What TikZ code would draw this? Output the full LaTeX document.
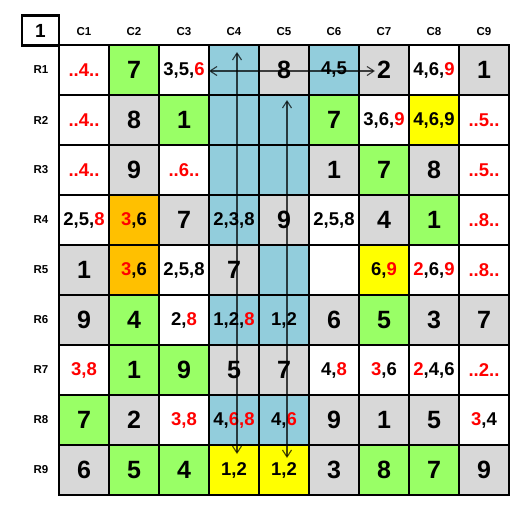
\documentclass[tikz,border=0pt]{standalone}
\usepackage{fontspec}
\setmainfont{Liberation Sans}
\usetikzlibrary{arrows.meta}
\definecolor{cG}{HTML}{99FF66}
\definecolor{cY}{HTML}{FFFF00}
\definecolor{cB}{HTML}{92CDDC}
\definecolor{cO}{HTML}{FFC000}
\definecolor{cS}{HTML}{D8D8D8}
\definecolor{cW}{HTML}{FFFFFF}
\definecolor{cR}{HTML}{FF0000}
\newcommand\rd[1]{\textcolor{cR}{#1}}
\tikzset{
  cellbox/.style={minimum size=50pt, inner sep=0pt, draw=none},
  bigtxt/.style={font=\bfseries\fontsize{25}{25}\selectfont},
  candtxt/.style={font=\bfseries\fontsize{18.5}{18.5}\selectfont},
  lbltxt/.style={font=\bfseries\fontsize{11.5}{12}\selectfont},
  thinline/.style={line width=1.2pt},
  thickline/.style={line width=2.6pt},
  arrbase/.style={line width=1.1pt, draw=black, draw opacity=0.72},
  arrtwo/.style={arrbase, arrows={Straight Barb[length=7pt,width=9pt]-Straight Barb[length=7pt,width=9pt]}},
  arrone/.style={arrbase, arrows={-Straight Barb[length=7pt,width=9pt]}}
}
\begin{document}
\begin{tikzpicture}[x=1pt,y=-1pt]
\useasboundingbox (0,0) rectangle (532,512);
\fill[white] (0,0) rectangle (532,512);
% row 1
\foreach \c/\f/\s/\t in {1/cW/candtxt/{\rd{..4..}},2/cG/bigtxt/7,3/cW/candtxt/{3,5,\rd{6}},4/cB/bigtxt/{},5/cS/bigtxt/8,6/cB/candtxt/{4,5},7/cS/bigtxt/2,8/cW/candtxt/{4,6,\rd{9}},9/cS/bigtxt/1}
  \node[cellbox, fill=\f, \s] (r1c\c) at (34+50*\c, 70) {\t};
% row 2
\foreach \c/\f/\s/\t in {1/cW/candtxt/{\rd{..4..}},2/cS/bigtxt/8,3/cG/bigtxt/1,4/cB/bigtxt/{},5/cB/bigtxt/{},6/cG/bigtxt/7,7/cW/candtxt/{3,6,\rd{9}},8/cY/candtxt/{4,6,9},9/cW/candtxt/{\rd{..5..}}}
  \node[cellbox, fill=\f, \s] (r2c\c) at (34+50*\c, 120) {\t};
% row 3
\foreach \c/\f/\s/\t in {1/cW/candtxt/{\rd{..4..}},2/cS/bigtxt/9,3/cW/candtxt/{\rd{..6..}},4/cB/bigtxt/{},5/cB/bigtxt/{},6/cS/bigtxt/1,7/cG/bigtxt/7,8/cS/bigtxt/8,9/cW/candtxt/{\rd{..5..}}}
  \node[cellbox, fill=\f, \s] (r3c\c) at (34+50*\c, 170) {\t};
% row 4
\foreach \c/\f/\s/\t in {1/cW/candtxt/{2,5,\rd{8}},2/cO/candtxt/{\rd{3},6},3/cS/bigtxt/7,4/cB/candtxt/{2,3,8},5/cS/bigtxt/9,6/cW/candtxt/{2,5,8},7/cS/bigtxt/4,8/cG/bigtxt/1,9/cW/candtxt/{\rd{..8..}}}
  \node[cellbox, fill=\f, \s] (r4c\c) at (34+50*\c, 220) {\t};
% row 5
\foreach \c/\f/\s/\t in {1/cS/bigtxt/1,2/cO/candtxt/{\rd{3},6},3/cW/candtxt/{2,5,8},4/cS/bigtxt/7,5/cB/bigtxt/{},6/cW/bigtxt/{},7/cY/candtxt/{6,\rd{9}},8/cW/candtxt/{\rd{2},6,\rd{9}},9/cW/candtxt/{\rd{..8..}}}
  \node[cellbox, fill=\f, \s] (r5c\c) at (34+50*\c, 270) {\t};
% row 6
\foreach \c/\f/\s/\t in {1/cS/bigtxt/9,2/cG/bigtxt/4,3/cW/candtxt/{2,\rd{8}},4/cB/candtxt/{1,2,\rd{8}},5/cB/candtxt/{1,2},6/cS/bigtxt/6,7/cG/bigtxt/5,8/cS/bigtxt/3,9/cS/bigtxt/7}
  \node[cellbox, fill=\f, \s] (r6c\c) at (34+50*\c, 320) {\t};
% row 7
\foreach \c/\f/\s/\t in {1/cW/candtxt/{\rd{3,8}},2/cG/bigtxt/1,3/cG/bigtxt/9,4/cS/bigtxt/5,5/cS/bigtxt/7,6/cW/candtxt/{4,\rd{8}},7/cW/candtxt/{\rd{3},6},8/cW/candtxt/{\rd{2},4,6},9/cW/candtxt/{\rd{..2..}}}
  \node[cellbox, fill=\f, \s] (r7c\c) at (34+50*\c, 370) {\t};
% row 8
\foreach \c/\f/\s/\t in {1/cG/bigtxt/7,2/cS/bigtxt/2,3/cW/candtxt/{\rd{3,8}},4/cB/candtxt/{4,\rd{6,8}},5/cB/candtxt/{4,\rd{6}},6/cS/bigtxt/9,7/cS/bigtxt/1,8/cS/bigtxt/5,9/cW/candtxt/{\rd{3},4}}
  \node[cellbox, fill=\f, \s] (r8c\c) at (34+50*\c, 420) {\t};
% row 9
\foreach \c/\f/\s/\t in {1/cS/bigtxt/6,2/cG/bigtxt/5,3/cG/bigtxt/4,4/cY/candtxt/{1,2},5/cY/candtxt/{1,2},6/cS/bigtxt/3,7/cG/bigtxt/8,8/cG/bigtxt/7,9/cS/bigtxt/9}
  \node[cellbox, fill=\f, \s] (r9c\c) at (34+50*\c, 470) {\t};
% thin grid
\foreach \i in {1,...,8} {
  \draw[thinline] (59+50*\i, 45) -- (59+50*\i, 495);
  \draw[thinline] (59, 45+50*\i) -- (509, 45+50*\i);
}
% thick grid
\foreach \i in {0,3,6,9} {
  \draw[thickline] (59+50*\i, 45) -- (59+50*\i, 495);
  \draw[thickline] (59, 45+50*\i) -- (509, 45+50*\i);
}
\draw[thickline] (59,45) rectangle (509,495);
% labels
\node[draw, line width=2.6pt, minimum width=37pt, minimum height=30pt, inner sep=0pt, font=\bfseries\fontsize{19}{19}\selectfont] (corner) at (40.5,30.5) {1};
\foreach \i in {1,...,9} {
  \node[lbltxt] (col\i) at (34+50*\i, 31.5) {C\i};
  \node[lbltxt] (row\i) at (41, 20+50*\i) {R\i};
}
% arrows
\coordinate (hL) at (209,71);
\coordinate (hR) at (375,71);
\coordinate (v1t) at (237,52);
\coordinate (v1b) at (237,454);
\coordinate (v2t) at (287,100);
\coordinate (v2b) at (287,458);
\draw[arrtwo] (hL) -- (hR);
\draw[arrtwo] (v1t) -- (v1b);
\draw[arrtwo] (v2t) -- (v2b);
\end{tikzpicture}
\end{document}
